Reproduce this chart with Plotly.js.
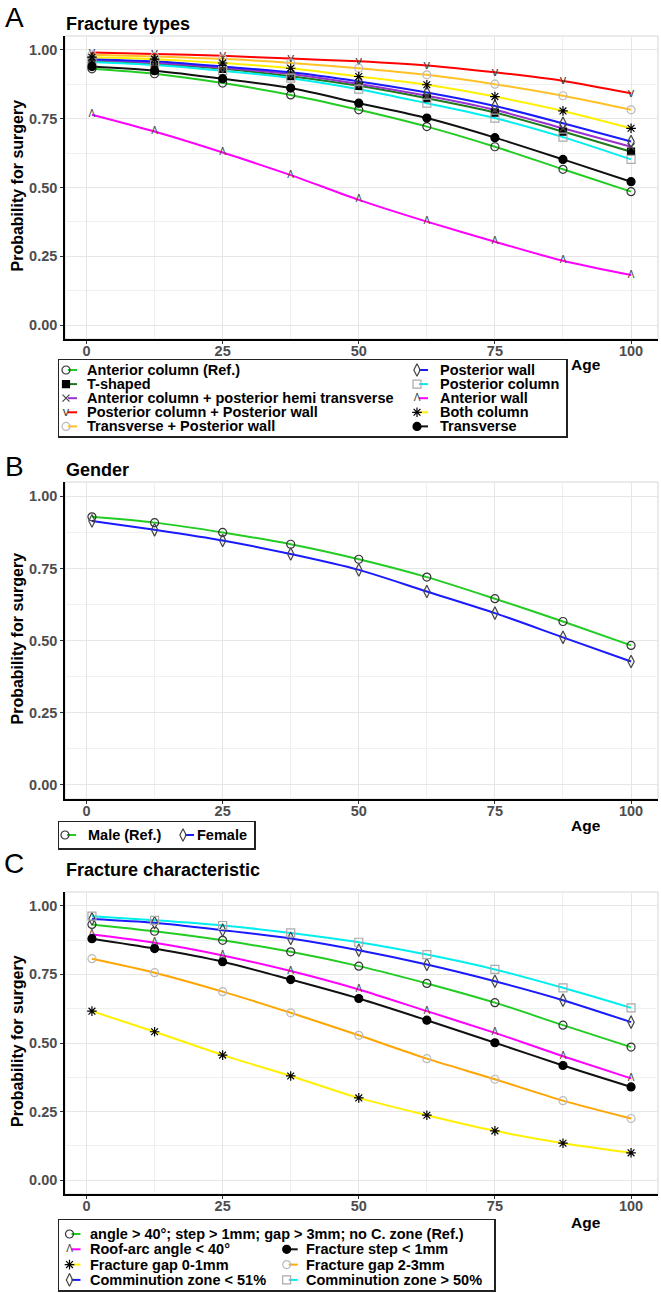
<!DOCTYPE html>
<html><head><meta charset="utf-8">
<script src="https://cdn.plot.ly/plotly-3.0.1.min.js"></script>
<style>html,body{margin:0;padding:0;background:#fff}#chart{width:661px;height:1293px}</style>
</head><body><div id="chart"></div><script>
// ---------- data ----------
const ages = [1, 12.5, 25, 37.5, 50, 62.5, 75, 87.5, 100];
const xTicks = [0, 25, 50, 75, 100];
const xTickText = ['0', '25', '50', '75', '100'];
const yTicks = [0, 0.25, 0.5, 0.75, 1];
const yTickText = ['0.00', '0.25', '0.50', '0.75', '1.00'];

// Panel A: fracture types
const typeNames = ['Anterior column (Ref.)', 'T-shaped', 'Anterior column + posterior hemi transverse',
  'Posterior column + Posterior wall', 'Transverse + Posterior wall', 'Posterior wall', 'Posterior column',
  'Anterior wall', 'Both column', 'Transverse'];
const anteriorColumn   = [0.931, 0.913, 0.879, 0.836, 0.782, 0.721, 0.648, 0.566, 0.485];
const tShaped          = [0.960, 0.949, 0.931, 0.904, 0.869, 0.824, 0.772, 0.703, 0.630];
const antColPostHemi   = [0.964, 0.953, 0.935, 0.912, 0.876, 0.833, 0.782, 0.715, 0.648];
const postColPostWall  = [0.990, 0.985, 0.978, 0.968, 0.958, 0.943, 0.918, 0.887, 0.842];
const transPostWall    = [0.982, 0.976, 0.967, 0.952, 0.933, 0.909, 0.875, 0.833, 0.782];
const posteriorWall    = [0.966, 0.958, 0.939, 0.918, 0.885, 0.845, 0.796, 0.733, 0.667];
const posteriorColumn  = [0.956, 0.945, 0.924, 0.897, 0.857, 0.806, 0.752, 0.683, 0.602];
const anteriorWall     = [0.764, 0.703, 0.627, 0.545, 0.455, 0.376, 0.303, 0.234, 0.182];
const bothColumn       = [0.973, 0.966, 0.952, 0.933, 0.903, 0.873, 0.830, 0.778, 0.715];
const transverse       = [0.939, 0.924, 0.895, 0.861, 0.806, 0.752, 0.681, 0.602, 0.521];

// Panel B: gender
const genderNames = ['Male (Ref.)', 'Female'];
const male   = [0.929, 0.909, 0.875, 0.834, 0.782, 0.720, 0.645, 0.566, 0.483];
const female = [0.915, 0.884, 0.847, 0.800, 0.745, 0.670, 0.595, 0.511, 0.427];

// Panel C: fracture characteristic
const charNames = ['angle > 40°; step > 1mm; gap > 3mm; no C. zone (Ref.)', 'Roof-arc angle < 40°',
  'Fracture step < 1mm', 'Fracture gap 0-1mm', 'Fracture gap 2-3mm', 'Comminution zone < 51%', 'Comminution zone > 50%'];
const charRef   = [0.932, 0.907, 0.874, 0.832, 0.780, 0.717, 0.647, 0.565, 0.485];
const roofArc   = [0.895, 0.865, 0.819, 0.762, 0.695, 0.616, 0.537, 0.452, 0.371];
const stepLt1   = [0.880, 0.844, 0.796, 0.731, 0.662, 0.583, 0.501, 0.418, 0.340];
const gap01     = [0.616, 0.541, 0.456, 0.380, 0.300, 0.237, 0.180, 0.135, 0.100];
const gap23     = [0.807, 0.756, 0.687, 0.610, 0.528, 0.443, 0.368, 0.290, 0.225];
const commLt51  = [0.952, 0.938, 0.911, 0.881, 0.838, 0.786, 0.725, 0.656, 0.576];
const commGt50  = [0.962, 0.947, 0.928, 0.901, 0.867, 0.822, 0.768, 0.701, 0.628];

// ---------- styles ----------
const FONT = '"Liberation Sans", Arial, sans-serif';
const W = 661, H = 1293;
const px = x => x / W, py = y => 1 - y / H;

const MK = {
  circOpen:  {symbol: 'circle-open', size: 8, color: '#333'},
  circGrey:  {symbol: 'circle-open', size: 8, color: '#BBBBBB'},
  circFill:  {symbol: 'circle', size: 8, color: '#000'},
  sqFill:    {symbol: 'square', size: 7, color: '#000'},
  sqGrey:    {symbol: 'square-open', size: 8, color: '#AAAAAA'},
  diamond:   {symbol: 'diamond-tall-open', size: 9, color: '#444'},
  xmark:     {symbol: 'x-thin-open', size: 7, color: '#444'},
  star:      {symbol: 'asterisk-open', size: 8, color: '#000'},
  vee:       {text: 'v', size: 13, color: '#444'},
  lam:       {text: 'Λ', size: 10, color: '#444'}
};

const panelA = {
  names: typeNames,
  values: [anteriorColumn, tShaped, antColPostHemi, postColPostWall, transPostWall, posteriorWall, posteriorColumn, anteriorWall, bothColumn, transverse],
  colors: ['#22CC22', '#1F7A1F', '#9932CC', '#FF0000', '#FFC125', '#1A1AFF', '#00EEEE', '#FF00FF', '#FFF000', '#111111'],
  marks: [MK.circOpen, MK.sqFill, MK.xmark, MK.vee, MK.circGrey, MK.diamond, MK.sqGrey, MK.lam, MK.star, MK.circFill]
};
const panelB = {
  names: genderNames,
  values: [male, female],
  colors: ['#22CC22', '#1A1AFF'],
  marks: [MK.circOpen, MK.diamond]
};
const panelC = {
  names: charNames,
  values: [charRef, roofArc, stepLt1, gap01, gap23, commLt51, commGt50],
  colors: ['#22CC22', '#FF00FF', '#111111', '#FFF000', '#FFA500', '#1A1AFF', '#00EEEE'],
  marks: [MK.circOpen, MK.lam, MK.circFill, MK.star, MK.circGrey, MK.diamond, MK.sqGrey]
};

const layout = {
  width: W, height: H, margin: {l: 0, r: 0, t: 0, b: 0}, showlegend: false,
  paper_bgcolor: '#fff', plot_bgcolor: '#fff', font: {family: FONT},
  annotations: [], shapes: []
};
const traces = [];

function markerTrace(xs, ys, mk, xa, ya) {
  if (mk.text) {
    return {x: xs, y: ys, xaxis: xa, yaxis: ya, type: 'scatter', mode: 'text', cliponaxis: false,
      text: xs.map(() => mk.text), textposition: 'middle center',
      textfont: {family: FONT, size: mk.size, color: mk.color}, hoverinfo: 'skip'};
  }
  return {x: xs, y: ys, xaxis: xa, yaxis: ya, type: 'scatter', mode: 'markers', cliponaxis: false,
    marker: {symbol: mk.symbol, size: mk.size, color: mk.color, line: {color: mk.color, width: 1.2}}, hoverinfo: 'skip'};
}

function addPanel(p, n, top, bottom, cfg) {
  const xa = 'x' + (n === 1 ? '' : n), ya = 'y' + (n === 1 ? '' : n);
  const xk = 'xaxis' + (n === 1 ? '' : n), yk = 'yaxis' + (n === 1 ? '' : n);
  const tickfont = {family: FONT, size: 14.5, color: '#4D4D4D', weight: 'bold'};
  layout[xk] = {domain: [px(65), px(658)], range: [-3.95, 104.95], anchor: ya,
    tickmode: 'array', tickvals: xTicks, ticktext: xTickText, tickfont: tickfont,
    ticks: 'outside', ticklen: 3, tickcolor: '#333', tickwidth: 1, ticklabelstandoff: -5,
    showgrid: true, gridcolor: '#E6E6E6', gridwidth: 1,
    minor: {tickmode: 'array', tickvals: [12.5, 37.5, 62.5, 87.5], showgrid: true, gridcolor: '#F0F0F0', gridwidth: 1},
    showline: true, linecolor: '#000', linewidth: 1.8, zeroline: false, fixedrange: true};
  layout[yk] = {domain: [py(bottom), py(top)], range: [-0.05, 1.05], anchor: xa,
    tickmode: 'array', tickvals: yTicks, ticktext: yTickText, tickfont: tickfont,
    ticks: 'outside', ticklen: 3, tickcolor: '#333', tickwidth: 1,
    showgrid: true, gridcolor: '#E6E6E6', gridwidth: 1,
    minor: {tickmode: 'array', tickvals: [0.125, 0.375, 0.625, 0.875], showgrid: true, gridcolor: '#F0F0F0', gridwidth: 1},
    showline: true, linecolor: '#000', linewidth: 1.8, zeroline: false, fixedrange: true};
  layout.shapes.push({type: 'rect', xref: xa + ' domain', yref: ya + ' domain', x0: 0, x1: 1, y0: 0, y1: 1,
    line: {color: '#D6D6D6', width: 1}, layer: 'below'});
  // lines
  p.values.forEach((v, i) => {
    traces.push({x: ages, y: v, xaxis: xa, yaxis: ya, type: 'scatter', mode: 'lines',
      line: {color: p.colors[i], width: 2, shape: 'spline', smoothing: 0.8}, hoverinfo: 'skip'});
  });
  // markers
  p.values.forEach((v, i) => traces.push(markerTrace(ages, v, p.marks[i], xa, ya)));

  // texts
  const ann = layout.annotations;
  ann.push({xref: 'paper', yref: 'paper', x: px(14), y: py(cfg.labelY), text: cfg.label, showarrow: false,
    xanchor: 'center', yanchor: 'middle', font: {family: FONT, size: 28, color: '#000'}});
  ann.push({xref: 'paper', yref: 'paper', x: px(64), y: py(cfg.titleY), text: '<b>' + cfg.title + '</b>', showarrow: false,
    xanchor: 'left', yanchor: 'middle', font: {family: FONT, size: 18, color: '#000'}});
  ann.push({xref: 'paper', yref: 'paper', x: px(17), y: py((top + bottom) / 2 - 2), text: '<b>Probability for surgery</b>',
    textangle: -90, showarrow: false, xanchor: 'center', yanchor: 'middle', font: {family: FONT, size: 16, color: '#000'}});
  ann.push({xref: 'paper', yref: 'paper', x: px(586), y: py(cfg.ageY), text: '<b>Age</b>', showarrow: false,
    xanchor: 'center', yanchor: 'middle', font: {family: FONT, size: 15.5, color: '#000'}});

  // legend box (axes in pixel units)
  const lg = cfg.legend, ln = n + 3;
  const lxa = 'x' + ln, lya = 'y' + ln;
  const base = {showgrid: false, zeroline: false, showticklabels: false, ticks: '', showline: true, mirror: true,
    linecolor: '#222', linewidth: 1.5, fixedrange: true};
  layout['xaxis' + ln] = Object.assign({domain: [px(lg.box[0]), px(lg.box[1])], range: [lg.box[0], lg.box[1]], anchor: lya}, base);
  layout['yaxis' + ln] = Object.assign({domain: [py(lg.box[3]), py(lg.box[2])], range: [lg.box[3], lg.box[2]], anchor: lxa}, base);
  p.names.forEach((name, i) => {
    const pos = lg.pos(i);
    const mx = lg.markX[pos.col], tx = lg.textX[pos.col], ry = lg.rowY0 + lg.rowStep * pos.row;
    traces.push({x: [mx + 2, mx + 11], y: [ry, ry], xaxis: lxa, yaxis: lya, type: 'scatter', mode: 'lines',
      line: {color: p.colors[i], width: 2}, hoverinfo: 'skip', cliponaxis: false});
    traces.push(markerTrace([mx], [ry], p.marks[i], lxa, lya));
    ann.push({xref: lxa, yref: lya, x: tx, y: ry, text: '<b>' + name + '</b>', showarrow: false,
      xanchor: 'left', yanchor: 'middle', font: {family: FONT, size: 14.5, color: '#000'}});
  });
}

addPanel(panelA, 1, 36, 339, {label: 'A', labelY: 17, title: 'Fracture types', titleY: 24, ageY: 364,
  legend: {box: [59, 566, 360, 436], markX: [66, 417], textX: [85, 438], rowY0: 370, rowStep: 14.1,
    pos: i => ({col: Math.floor(i / 5), row: i % 5})}});
addPanel(panelB, 2, 482, 799, {label: 'B', labelY: 466, title: 'Gender', titleY: 470, ageY: 825,
  legend: {box: [59, 254, 822, 848], markX: [65, 183], textX: [86, 195], rowY0: 835, rowStep: 0,
    pos: i => ({col: i, row: 0})}});
addPanel(panelC, 3, 892, 1194, {label: 'C', labelY: 863, title: 'Fracture characteristic', titleY: 870, ageY: 1222,
  legend: {box: [59, 494, 1220, 1290], markX: [69.5, 286.7], textX: [88, 304], rowY0: 1234, rowStep: 15.3,
    pos: i => (i === 0 ? {col: 0, row: 0} : {col: (i - 1) % 2, row: 1 + Math.floor((i - 1) / 2)})}});

Plotly.newPlot('chart', traces, layout, {staticPlot: true, displayModeBar: false});
</script></body></html>
